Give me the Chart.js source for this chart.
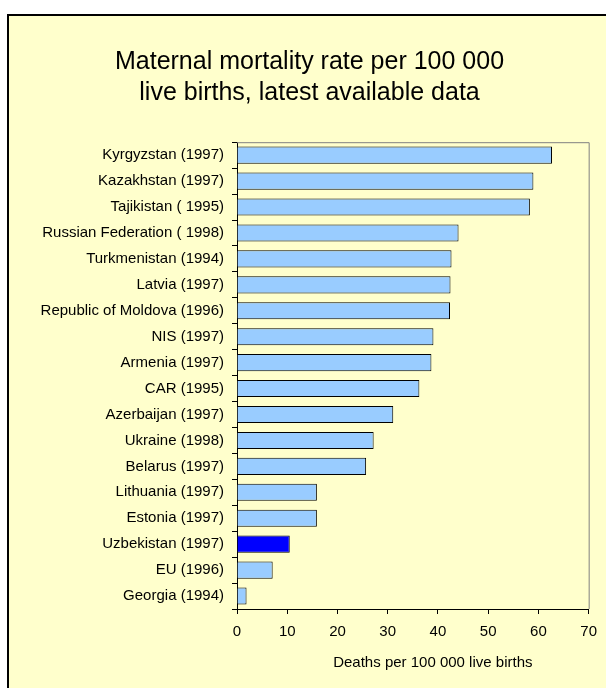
<!DOCTYPE html>
<html>
<head>
<meta charset="utf-8">
<script src="https://cdn.jsdelivr.net/npm/chart.js@4/dist/chart.umd.min.js"></script>
<style>
    body { margin: 0; background: #fff; overflow: hidden; width: 606px; height: 688px; position: relative; }
    #painel { position: absolute; left: 7px; top: 14px; width: 700px; height: 800px; border: 2px solid #000; background: #FFFFCC; }
    #grafico { position: absolute; left: 0; top: 0; }
</style>
</head>
<body>
<div id="painel"></div>
<canvas id="grafico" width="606" height="688"></canvas>
<script>
// paises e ano do dado
var paises = [
    'Kyrgyzstan (1997)', 'Kazakhstan (1997)', 'Tajikistan ( 1995)', 'Russian Federation ( 1998)',
    'Turkmenistan (1994)', 'Latvia (1997)', 'Republic of Moldova (1996)', 'NIS (1997)',
    'Armenia (1997)', 'CAR (1995)', 'Azerbaijan (1997)', 'Ukraine (1998)', 'Belarus (1997)',
    'Lithuania (1997)', 'Estonia (1997)', 'Uzbekistan (1997)', 'EU (1996)', 'Georgia (1994)'
];
// mortes por 100 000 nascidos vivos
var mortes = [62.7, 59.0, 58.3, 44.1, 42.7, 42.5, 42.4, 39.1, 38.7, 36.3, 31.1, 27.2, 25.7, 15.9, 15.9, 10.5, 7.1, 1.9];
var destaque = 'Uzbekistan (1997)';
var ticks_x = [0, 10, 20, 30, 40, 50, 60, 70];

var cores = paises.map(function (p) { return p == destaque ? '#0000FF' : '#99CCFF'; });

var fonte = "'Liberation Sans', Arial, sans-serif";

//MOLDURA CINZA DA AREA DO GRAFICO E TITULO DO EIXO X
var moldura = {
    id: 'moldura',
    beforeDatasetsDraw: function (chart) {
        var a = chart.chartArea;
        var ctx = chart.ctx;
        ctx.save();
        ctx.strokeStyle = '#808080';
        ctx.lineWidth = 1;
        ctx.beginPath();
        ctx.moveTo(a.left, a.top + 0.5);
        ctx.lineTo(a.right + 0.5, a.top + 0.5);
        ctx.lineTo(a.right + 0.5, a.bottom);
        ctx.stroke();
        ctx.restore();
    },
    afterDraw: function (chart) {
        var a = chart.chartArea;
        var ctx = chart.ctx;
        ctx.save();
        ctx.fillStyle = '#000';
        ctx.font = '15px ' + fonte;
        ctx.textAlign = 'center';
        ctx.textBaseline = 'alphabetic';
        ctx.fillText('Deaths per 100 000 live births', (a.left + a.right) / 2 + 20, 667);
        ctx.restore();
    }
};

var ctx = document.getElementById('grafico').getContext('2d');
var myChart = new Chart(ctx, {
    type: 'bar',
    data: {
        labels: paises,
        datasets: [{
            data: mortes,
            backgroundColor: cores,
            borderColor: '#000',
            borderWidth: 1,
            barPercentage: 0.66,
            categoryPercentage: 1
        }]
    },
    options: {
        indexAxis: 'y',
        responsive: false,
        animation: false,
        layout: { padding: { left: 30, right: 17, top: 0, bottom: 0 } },
        plugins: {
            legend: { display: false },
            tooltip: { enabled: false },
            title: {
                display: true,
                text: ['Maternal mortality rate per 100 000', 'live births, latest available data'],
                color: '#000',
                font: { family: fonte, size: 25, weight: 'normal', lineHeight: 1.264 },
                padding: { top: 46, bottom: 33 }
            }
        },
        scales: {
            x: {
                min: 0,
                max: 70,
                afterFit: function (s) { s.height = 79; },
                afterBuildTicks: function (s) { s.ticks = ticks_x.map(function (v) { return { value: v }; }); },
                grid: { drawOnChartArea: false, drawTicks: true, tickLength: 5, color: '#000' },
                border: { color: '#000', width: 1 },
                ticks: { color: '#000', padding: 9, font: { family: fonte, size: 15 } }
            },
            y: {
                afterFit: function (s) { s.width = 207; },
                grid: { drawOnChartArea: false, drawTicks: true, tickLength: 5, color: '#000', offset: true },
                border: { color: '#000', width: 1 },
                ticks: { color: '#000', padding: 8, font: { family: fonte, size: 15 } }
            }
        }
    },
    plugins: [moldura]
});
</script>
</body>
</html>
